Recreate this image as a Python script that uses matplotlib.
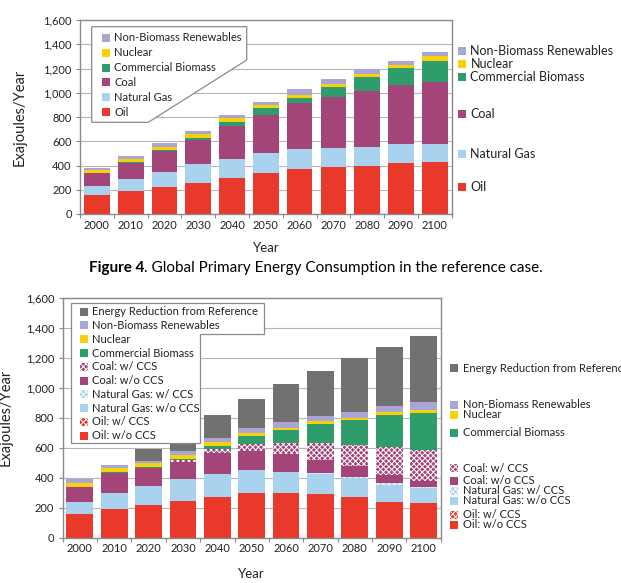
import numpy as np
import matplotlib
matplotlib.use('Agg')
import matplotlib.pyplot as plt
from matplotlib.patches import Polygon, Rectangle

plt.rcParams['font.family'] = ['Lato', 'DejaVu Sans']
plt.rcParams['hatch.linewidth'] = 0.7

years = ['2000', '2010', '2020', '2030', '2040', '2050',
         '2060', '2070', '2080', '2090', '2100']

# reference case (EJ/yr)
ref_oil = [155, 192, 223, 258, 294, 338, 368, 390, 398, 418, 426]
ref_gas = [80, 99, 123, 154, 157, 162, 165, 157, 157, 157, 149]
ref_coal = [100, 132, 176, 198, 277, 316, 380, 420, 462, 489, 516]
ref_bio = [3, 6, 6, 17, 33, 55, 41, 83, 113, 140, 168]
ref_nuc = [28, 22, 27, 33, 28, 25, 25, 22, 27, 27, 44]
ref_ren = [10, 30, 28, 27, 30, 28, 49, 44, 41, 33, 33]

# policy case (EJ/yr)
pol_oil = [160, 189, 220, 245, 273, 296, 296, 289, 273, 240, 229]
pol_oil_ccs = [0, 0, 0, 0, 0, 0, 0, 0, 0, 0, 0]
pol_gas = [76, 107, 122, 144, 151, 155, 142, 135, 125, 111, 100]
pol_gas_ccs = [0, 0, 0, 0, 0, 0, 3, 5, 9, 16, 11]
pol_coal = [100, 133, 120, 118, 138, 129, 116, 89, 73, 51, 40]
pol_coal_ccs = [0, 0, 0, 11, 27, 42, 77, 115, 138, 184, 204]
pol_bio = [2, 6, 7, 4, 22, 56, 85, 125, 166, 216, 245]
pol_nuc = [29, 27, 26, 27, 29, 18, 15, 18, 16, 22, 22]
pol_ren = [22, 22, 18, 31, 27, 33, 38, 35, 40, 38, 51]
pol_red = [0, 0, 76, 109, 151, 195, 251, 302, 360, 391, 443]

C_OIL = '#e8392b'
C_GAS = '#a9d2ee'
C_COAL = '#a4457a'
C_BIO = '#2f9c6c'
C_NUC = '#f8d10d'
C_REN = '#aaa5d3'
C_RED = '#717171'
GRAY = '#8a8a8a'
TXT = '#222222'
HATCH = 'x' * 6

W, H = 621, 583
fig = plt.figure(figsize=(W / 100, H / 100), dpi=100)


def fx(px):
    return px / W


def fy(py):
    return 1 - py / H


ax1 = fig.add_axes([fx(80), fy(214), 371.7 / W, 194 / H])
ax2 = fig.add_axes([fx(62.7), fy(537.7), 378 / W, 240 / H])

x = np.arange(len(years))


def style_axis(ax, ylab_x, xlab_y):
    ax.set_xlim(-0.5, 10.5)
    ax.set_ylim(0, 1600)
    ax.set_yticks(range(0, 1601, 200))
    ax.set_yticklabels([f'{v:,}' for v in range(0, 1601, 200)])
    ax.set_xticks(np.arange(-0.5, 10.6, 1))
    ax.set_xticklabels([])
    ax.set_xticks(x, minor=True)
    ax.set_xticklabels(years, minor=True)
    ax.tick_params(axis='x', which='minor', length=0, labelsize=8,
                   pad=4, labelcolor=TXT)
    ax.tick_params(axis='x', which='major', length=3, color=GRAY)
    ax.tick_params(axis='y', length=3, color=GRAY, labelsize=8,
                   pad=3, labelcolor=TXT)
    ax.yaxis.grid(True, color='#b5b5b5', lw=0.8)
    ax.set_axisbelow(True)
    for s in ax.spines.values():
        s.set_color(GRAY)
        s.set_linewidth(1)
    ax.set_ylabel('Exajoules/Year', fontsize=10.5, color=TXT)
    ax.yaxis.set_label_coords(ylab_x, 0.5)
    ax.set_xlabel('Year', fontsize=9.5, color=TXT)
    ax.xaxis.set_label_coords(0.5, xlab_y)


def stack(ax, layers, width):
    bottom = np.zeros(len(x))
    for vals, color, hatch in layers:
        vals = np.array(vals, dtype=float)
        if hatch:
            ax.bar(x, vals, width, bottom=bottom, color=color,
                   edgecolor='white', hatch=hatch, linewidth=0, zorder=2)
        else:
            ax.bar(x, vals, width, bottom=bottom, color=color,
                   linewidth=0, zorder=2)
        bottom += vals


def swatch(px, py, color, hatch=None, size=8):
    r = Rectangle((fx(px - size / 2), fy(py + size / 2)), size / W, size / H,
                  transform=fig.transFigure, facecolor=color,
                  edgecolor='white' if hatch else 'none', hatch=hatch,
                  linewidth=0, zorder=10)
    fig.add_artist(r)


def label(px, py, text, size):
    fig.text(fx(px), fy(py), text, fontsize=size, color=TXT,
             ha='left', va='center', zorder=10)


# ---- top chart: reference case
style_axis(ax1, (27 - 80) / 371.7, (214 - 242) / 194)
stack(ax1, [(ref_oil, C_OIL, None), (ref_gas, C_GAS, None),
            (ref_coal, C_COAL, None), (ref_bio, C_BIO, None),
            (ref_nuc, C_NUC, None), (ref_ren, C_REN, None)], 0.76)

box1 = [(91.7, 26.7), (246.7, 26.7), (246.7, 60), (148.3, 122.3), (91.7, 122.3)]
fig.add_artist(Polygon([(fx(a), fy(b)) for a, b in box1], closed=True,
                       transform=fig.transFigure, facecolor='white',
                       edgecolor=GRAY, lw=0.9, zorder=8))
leg1 = [('Non-Biomass Renewables', C_REN), ('Nuclear', C_NUC),
        ('Commercial Biomass', C_BIO), ('Coal', C_COAL),
        ('Natural Gas', C_GAS), ('Oil', C_OIL)]
for i, (name, col) in enumerate(leg1):
    yy = 37.7 + i * 14.92
    swatch(106, yy, col)
    label(114.3, yy, name, 8)

side1 = [('Non-Biomass Renewables', C_REN, 51), ('Nuclear', C_NUC, 64),
         ('Commercial Biomass', C_BIO, 77), ('Coal', C_COAL, 114),
         ('Natural Gas', C_GAS, 154), ('Oil', C_OIL, 187)]
for name, col, yy in side1:
    swatch(462, yy, col)
    label(470.5, yy, name, 9)

cap = fig.text(fx(89), fy(268), 'Figure 4', fontsize=11, fontweight='bold',
               color='black', ha='left', va='center')
fig.canvas.draw()
bb = cap.get_window_extent()
fig.text(bb.x1 / W, fy(268), '. Global Primary Energy Consumption in the reference case.',
         fontsize=11, color='black', ha='left', va='center')

# ---- bottom chart: policy case
style_axis(ax2, (12.7 - 62.7) / 378, (537.7 - 568) / 240)
stack(ax2, [(pol_oil, C_OIL, None), (pol_oil_ccs, C_OIL, HATCH),
            (pol_gas, C_GAS, None), (pol_gas_ccs, C_GAS, HATCH),
            (pol_coal, C_COAL, None), (pol_coal_ccs, C_COAL, HATCH),
            (pol_bio, C_BIO, None), (pol_nuc, C_NUC, None),
            (pol_ren, C_REN, None), (pol_red, C_RED, None)], 0.78)

box2 = [(71, 302.7), (264, 302.7), (264, 334), (200, 334), (200, 442.7), (71, 442.7)]
fig.add_artist(Polygon([(fx(a), fy(b)) for a, b in box2], closed=True,
                       transform=fig.transFigure, facecolor='white',
                       edgecolor=GRAY, lw=0.9, zorder=8))
leg2 = [('Energy Reduction from Reference', C_RED, None),
        ('Non-Biomass Renewables', C_REN, None), ('Nuclear', C_NUC, None),
        ('Commercial Biomass', C_BIO, None), ('Coal: w/ CCS', C_COAL, HATCH),
        ('Coal: w/o CCS', C_COAL, None), ('Natural Gas: w/ CCS', C_GAS, HATCH),
        ('Natural Gas: w/o CCS', C_GAS, None), ('Oil: w/ CCS', C_OIL, HATCH),
        ('Oil: w/o CCS', C_OIL, None)]
for i, (name, col, h) in enumerate(leg2):
    yy = 311.7 + i * 13.78
    swatch(84, yy, col, h)
    label(92.3, yy, name, 8)

side2_y = [368.3, 405, 415, 432.7, 468.3, 481, 490.5, 500.5, 515, 525]
for (name, col, h), yy in zip(leg2, side2_y):
    swatch(454, yy, col, h)
    label(462.7, yy, name, 8)

fig.savefig('out.png', dpi=100)
